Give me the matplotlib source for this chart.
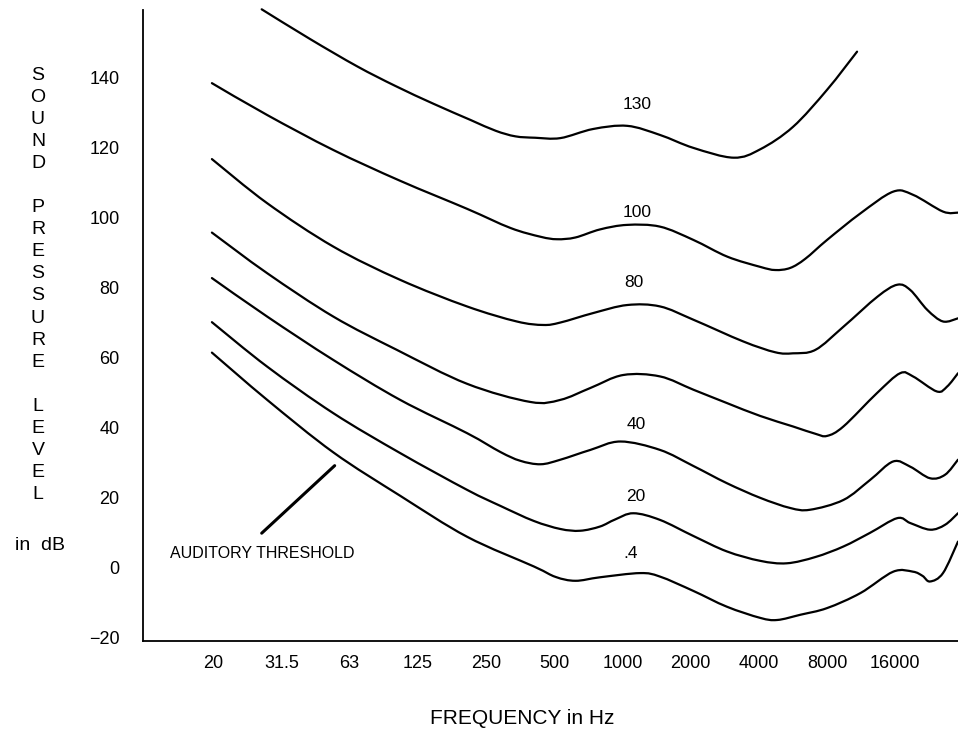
import matplotlib
matplotlib.use("Agg")
import matplotlib.pyplot as plt
from matplotlib.path import Path
from matplotlib.patches import PathPatch

plt.rcParams['font.family'] = ['Liberation Sans', 'DejaVu Sans']

# frequency axis: octave-spaced labels drawn at equal steps
freq_labels = ['20', '31.5', '63', '125', '250', '500', '1000', '2000', '4000', '8000', '16000']
freq_pos = list(range(len(freq_labels)))
db_ticks = [-20, 0, 20, 40, 60, 80, 100, 120, 140]

# contours (x in octave steps from 20 Hz, y in dB)
x_130 = [0.71, 1.42, 2.11, 2.67, 3.23, 3.77, 4.14, 4.43, 4.72, 5.09, 5.57, 6.07, 6.55, 7.04, 7.63, 8.02, 8.50, 9.00, 9.44]
y_130 = [159.6, 151.1, 143.3, 137.7, 132.6, 128.0, 124.9, 123.3, 122.9, 122.8, 125.4, 126.3, 123.7, 120.0, 117.2, 119.6, 126.0, 136.6, 147.5]

x_100 = [-0.02, 0.79, 1.76, 2.74, 3.72, 4.36, 4.80, 5.04, 5.31, 5.67, 6.07, 6.55, 7.04, 7.54, 8.02, 8.24, 8.46, 8.68, 9.00, 9.49, 9.97, 10.26, 10.70, 10.92]
y_100 = [138.5, 129.4, 119.4, 110.6, 102.6, 97.1, 94.6, 93.9, 94.4, 96.7, 98.0, 97.5, 93.7, 88.9, 86.0, 85.1, 85.7, 88.3, 93.7, 101.3, 107.5, 106.6, 101.8, 101.5]

x_80 = [-0.02, 0.79, 1.76, 2.74, 3.72, 4.45, 4.84, 5.09, 5.57, 6.07, 6.55, 7.04, 7.77, 8.24, 8.50, 8.83, 9.24, 9.74, 10.03, 10.22, 10.47, 10.70, 10.92]
y_80 = [116.8, 104.2, 91.8, 82.3, 74.7, 70.4, 69.4, 70.1, 72.8, 75.1, 74.7, 70.9, 64.7, 61.6, 61.3, 62.3, 68.9, 77.5, 80.9, 79.4, 73.7, 70.4, 71.3]

x_60 = [-0.02, 0.79, 1.76, 2.69, 3.72, 4.65, 5.09, 5.53, 6.01, 6.55, 7.04, 7.53, 8.02, 8.50, 8.83, 9.00, 9.24, 9.73, 10.07, 10.26, 10.61, 10.76, 10.92]
y_60 = [95.8, 84.2, 71.8, 62.3, 52.6, 47.4, 48.0, 51.4, 55.1, 54.7, 50.9, 47.1, 43.4, 40.4, 38.3, 37.7, 40.4, 49.9, 55.6, 54.7, 50.4, 51.8, 55.6]

x_40 = [-0.02, 0.79, 1.76, 2.74, 3.72, 4.21, 4.50, 4.80, 5.09, 5.53, 5.97, 6.55, 7.04, 7.53, 8.02, 8.46, 8.75, 9.24, 9.63, 9.97, 10.22, 10.51, 10.73, 10.92]
y_40 = [82.8, 71.8, 59.4, 48.0, 38.5, 33.1, 30.6, 29.6, 30.9, 33.7, 36.1, 33.7, 29.1, 24.2, 20.0, 17.1, 16.6, 19.4, 25.1, 30.4, 28.9, 25.6, 26.6, 30.9]

x_20 = [-0.02, 0.79, 1.76, 2.74, 3.72, 4.21, 4.70, 5.09, 5.38, 5.67, 5.89, 6.16, 6.55, 7.04, 7.53, 8.02, 8.41, 8.83, 9.24, 9.63, 10.03, 10.22, 10.51, 10.73, 10.92]
y_20 = [70.2, 57.5, 44.2, 32.8, 22.3, 17.7, 13.4, 11.1, 10.6, 11.8, 13.8, 15.6, 13.7, 9.1, 4.7, 2.0, 1.3, 3.1, 6.1, 10.0, 14.2, 12.8, 10.9, 12.3, 15.6]

x_thr = [-0.02, 0.79, 1.76, 2.74, 3.72, 4.70, 5.02, 5.31, 5.67, 6.26, 6.55, 7.04, 7.53, 8.02, 8.27, 8.61, 9.00, 9.49, 9.97, 10.26, 10.40, 10.51, 10.70, 10.92]
y_thr = [61.5, 48.0, 33.0, 20.6, 8.9, 0.4, -2.6, -3.7, -2.7, -1.5, -2.5, -6.6, -11.1, -14.3, -14.9, -13.4, -11.5, -7.2, -1.1, -1.1, -2.3, -3.9, -1.5, 7.5]

curve_labels = ['130', '100', '80', '40', '20', '.4']
label_x = [6.22, 6.22, 6.16, 6.20, 6.20, 6.12]
label_y = [132.3, 101.4, 81.4, 40.9, 20.3, 4.0]


def smooth_path(xs, ys):
    # catmull-rom style bezier through the read points, drawn by matplotlib
    pts = list(zip(xs, ys))
    verts = [pts[0]]
    codes = [Path.MOVETO]
    n = len(pts)
    for i in range(n - 1):
        p0 = pts[max(i - 1, 0)]
        p1 = pts[i]
        p2 = pts[i + 1]
        p3 = pts[min(i + 2, n - 1)]
        c1 = (p1[0] + (p2[0] - p0[0]) / 6, p1[1] + (p2[1] - p0[1]) / 6)
        c2 = (p2[0] - (p3[0] - p1[0]) / 6, p2[1] - (p3[1] - p1[1]) / 6)
        verts += [c1, c2, p2]
        codes += [Path.CURVE4] * 3
    return Path(verts, codes)


fig = plt.figure(figsize=(9.58, 7.36), dpi=100)
ax = fig.add_axes([0.1493, 0.1291, 0.8507, 0.8573])

for xs, ys in [(x_130, y_130), (x_100, y_100), (x_80, y_80), (x_60, y_60),
               (x_40, y_40), (x_20, y_20), (x_thr, y_thr)]:
    ax.add_patch(PathPatch(smooth_path(xs, ys), fill=False, edgecolor='black',
                           lw=1.6, capstyle='round', clip_on=False))

for t, lx, ly in zip(curve_labels, label_x, label_y):
    ax.text(lx, ly, t, ha='center', va='center', fontsize=12.5)

# pointer to the threshold curve
ax.plot([0.71, 1.78], [9.9, 29.2], color='black', lw=2.2, solid_capstyle='round')
ax.text(0.72, 4.0, 'AUDITORY THRESHOLD', ha='center', va='center', fontsize=11.5)

ax.set_xlim(-1.03, 10.92)
ax.set_ylim(-20.9, 159.4)
ax.set_xticks(freq_pos)
ax.set_xticklabels(freq_labels)
ax.set_yticks(db_ticks)
ax.set_yticklabels([str(v).replace('-', '\u2212') for v in db_ticks])
ax.tick_params(length=0, labelsize=13)
ax.tick_params(axis='x', pad=10)
ax.tick_params(axis='y', pad=17)
for s in ['top', 'right']:
    ax.spines[s].set_visible(False)
for s in ['left', 'bottom']:
    ax.spines[s].set_linewidth(1.3)

# stacked vertical axis title
letters = list('SOUND PRESSURE LEVEL')
for i, ch in enumerate(letters):
    if ch != ' ':
        fig.text(38 / 958, 1 - (75 + i * 22.1) / 736, ch, ha='center', va='center', fontsize=14)
fig.text(40 / 958, 1 - 545 / 736, 'in  dB', ha='center', va='center', fontsize=14)
fig.text(522 / 958, 1 - 718 / 736, 'FREQUENCY in Hz', ha='center', va='center', fontsize=15)

fig.savefig('out.png', dpi=100)
